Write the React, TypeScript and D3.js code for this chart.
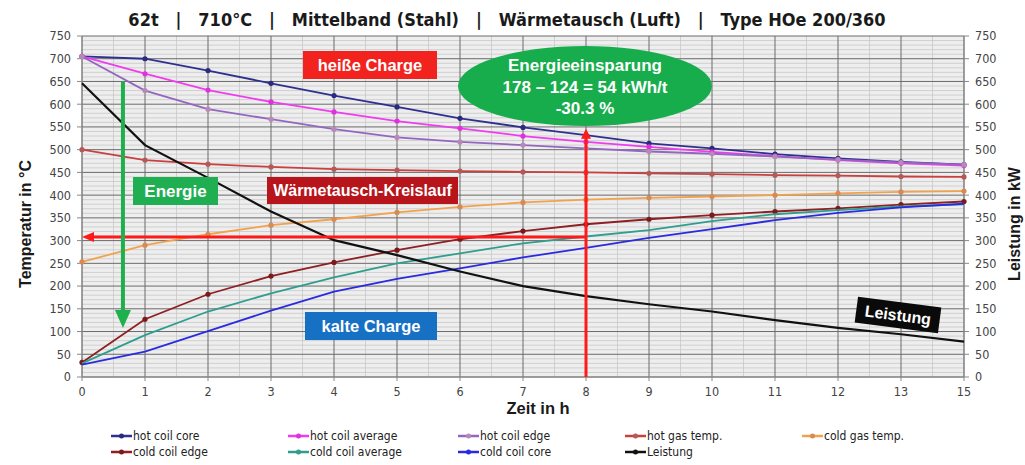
import React from 'react';
import * as d3 from 'd3';

const xLabels = ['0','1','2','3','4','5','6','7','8','9','10','11','12','13','15'];
const yTicks = [0,50,100,150,200,250,300,350,400,450,500,550,600,650,700,750];

const hotCoilCore = [705,700,674,646,619,594,569,549,532,514,503,490,481,473,467];
const hotCoilAverage = [705,667,631,605,583,563,547,530,517,506,495,486,477,470,465];
const hotCoilEdge = [705,630,589,567,545,527,517,510,503,496,491,485,478,472,467];
const hotGasTemp = [500,477,468,462,457,455,453,451,450,448,446,444,443,441,440];
const coldGasTemp = [253,290,314,334,347,362,374,384,390,394,397,400,404,407,409];
const coldCoilEdge = [32,127,182,222,252,279,303,321,336,347,356,364,371,379,386];
const coldCoilAverage = [30,92,144,184,219,250,272,294,309,323,343,358,367,375,380];
const coldCoilCore = [27,56,101,146,188,216,239,263,284,306,325,345,361,373,381];
const leistung = [646,510,438,364,301,268,232,200,178,160,144,125,108,94,78];

const seriesNames = ['hot coil core','hot coil average','hot coil edge','hot gas temp.','cold gas temp.','cold coil edge','cold coil average','cold coil core','Leistung'];
const seriesValues = [hotCoilCore, hotCoilAverage, hotCoilEdge, hotGasTemp, coldGasTemp, coldCoilEdge, coldCoilAverage, coldCoilCore, leistung];
const seriesColors = ['#2e2f8f','#f03cf0','#9466c0','#c8413f','#f2a24e','#8e1f22','#2f9e8f','#2a2ae0','#111111'];
const markerColors = ['#2a2a80','#e030e0','#b889b8','#b45858','#d98a50','#7a1a1a',null,null,null];

const titleText = '62t   |   710°C   |   Mittelband (Stahl)   |   Wärmetausch (Luft)   |   Type HOe 200/360';

const W = 1025, H = 465;
const X0 = 82, X1 = 964, Y0 = 377, Y1 = 36;

const narrow = "'Liberation Sans Narrow', 'Arial Narrow', 'DejaVu Sans Condensed', 'Liberation Sans', sans-serif";
const sans = "'Liberation Sans', Arial, sans-serif";

export default function App() {
  const x = d3.scalePoint<string>().domain(xLabels).range([X0, X1]);
  const y = d3.scaleLinear().domain([0, 750]).range([Y0, Y1]);
  const yR = d3.scaleLinear().domain([0, 750]).range([Y0, Y1]);
  const step = x.step();
  const line = d3.line<number>().x((_, i) => x(xLabels[i]) as number).y(d => y(d));

  const minorY = d3.range(0, 751, 10).filter(v => v % 50 !== 0);
  const minorX = xLabels.slice(0, -1).map(l => (x(l) as number) + step / 2);

  const x8 = x('8') as number;
  const yArrowH = y(308);
  const greenX = X0 + 0.65 * step;

  const legendCols = [111, 288, 458, 625, 802];
  const legendRows = [436, 452];

  const boxText = { fontFamily: sans, fontWeight: 'bold' as const, fill: '#fff', textAnchor: 'middle' as const };

  return (
    <svg width={W} height={H} style={{ position: 'absolute', left: 0, top: 0, background: '#fff' }}>
      <rect x={0} y={0} width={W} height={H} fill="#ffffff" />
      <rect x={X0} y={Y1} width={X1 - X0} height={Y0 - Y1} fill="#eeeeee" />
      {minorY.map(v => (
        <line key={'my' + v} x1={X0} x2={X1} y1={y(v)} y2={y(v)} stroke="#c8c8c8" strokeWidth={0.8} />
      ))}
      {minorX.map((px, i) => (
        <line key={'mx' + i} x1={px} x2={px} y1={Y1} y2={Y0} stroke="#c8c8c8" strokeWidth={0.8} />
      ))}
      {yTicks.map(v => (
        <line key={'gy' + v} x1={X0} x2={X1} y1={y(v)} y2={y(v)} stroke="#6a6a6a" strokeWidth={1} />
      ))}
      {xLabels.map(l => (
        <line key={'gx' + l} x1={x(l)} x2={x(l)} y1={Y1} y2={Y0} stroke="#6a6a6a" strokeWidth={1} />
      ))}
      <line x1={X0} x2={X0} y1={Y1} y2={Y0} stroke="#888" strokeWidth={1} />
      <line x1={X1} x2={X1} y1={Y1} y2={Y0} stroke="#888" strokeWidth={1} />
      <line x1={X0} x2={X1} y1={Y0} y2={Y0} stroke="#888" strokeWidth={1} />
      {yTicks.map(v => (
        <g key={'ty' + v}>
          <line x1={X0 - 5} x2={X0} y1={y(v)} y2={y(v)} stroke="#888" />
          <text x={X0 - 11} y={y(v)} dy="0.35em" textAnchor="end" fontFamily={narrow} fontSize={12.5} fill="#444">{v}</text>
          <line x1={X1} x2={X1 + 5} y1={yR(v)} y2={yR(v)} stroke="#888" />
          <text x={X1 + 11} y={yR(v)} dy="0.35em" textAnchor="start" fontFamily={narrow} fontSize={12.5} fill="#444">{v}</text>
        </g>
      ))}
      {xLabels.map(l => (
        <g key={'tx' + l}>
          <line x1={x(l)} x2={x(l)} y1={Y0} y2={Y0 + 4} stroke="#888" />
          <text x={x(l)} y={Y0 + 19} textAnchor="middle" fontFamily={narrow} fontSize={12.5} fill="#444">{l}</text>
        </g>
      ))}

      {seriesValues.map((vals, si) => (
        <g key={'s' + si}>
          <path d={line(vals) || ''} fill="none" stroke={seriesColors[si]} strokeWidth={si === 8 ? 2.2 : 1.8} />
          {markerColors[si] && vals.map((v, i) => (
            <circle key={i} cx={x(xLabels[i])} cy={y(v)} r={2.6} fill={markerColors[si] as string} />
          ))}
        </g>
      ))}

      <line x1={x8} x2={x8} y1={Y0} y2={y(546) + 8} stroke="#ff1a1a" strokeWidth={3} />
      <path d={`M${x8},${y(546)} L${x8 - 5},${y(546) + 10} L${x8 + 5},${y(546) + 10} Z`} fill="#ff1a1a" />
      <line x1={x8} x2={X0 + 10} y1={yArrowH} y2={yArrowH} stroke="#ff1a1a" strokeWidth={3} />
      <path d={`M${X0},${yArrowH} L${X0 + 12},${yArrowH - 5} L${X0 + 12},${yArrowH + 5} Z`} fill="#ff1a1a" />
      <line x1={greenX} x2={greenX} y1={y(650)} y2={y(140)} stroke="#1fb04e" strokeWidth={4} />
      <path d={`M${greenX},${y(108)} L${greenX - 8},${y(108) - 18} L${greenX + 8},${y(108) - 18} Z`} fill="#1fb04e" />

      <rect x={303} y={51} width={134} height={28} fill="#f2221e" />
      <text x={370} y={65} dy="0.36em" fontSize={16.5} {...boxText}>heiße Charge</text>

      <ellipse cx={585} cy={86} rx={127} ry={40} fill="#17ad4c" />
      <text x={585} y={65} dy="0.36em" fontSize={17} {...boxText}>Energieeinsparung</text>
      <text x={585} y={87} dy="0.36em" fontSize={17} {...boxText}>178 – 124 = 54 kWh/t</text>
      <text x={585} y={108} dy="0.36em" fontSize={17} {...boxText}>-30.3 %</text>

      <rect x={133} y={177} width={85} height={28} fill="#1fae52" />
      <text x={175.5} y={191} dy="0.36em" fontSize={17} {...boxText}>Energie</text>

      <rect x={267} y={177} width={191} height={27} fill="#b8141b" />
      <text x={362.5} y={190.5} dy="0.36em" fontSize={16} {...boxText}>Wärmetausch-Kreislauf</text>

      <rect x={305} y={312} width={132} height={28} fill="#1670c4" />
      <text x={371} y={326} dy="0.36em" fontSize={16.5} {...boxText}>kalte Charge</text>

      <g transform="translate(898,315) rotate(7.5)">
        <rect x={-42} y={-13} width={84} height={26} fill="#0a0a0a" />
        <text x={0} y={0} dy="0.36em" fontSize={16} {...boxText}>Leistung</text>
      </g>

      <text x={507} y={26} textAnchor="middle" fontFamily={narrow} fontWeight="bold" fontSize={18} fill="#1a1a1a" style={{ whiteSpace: 'pre' }}>{titleText}</text>

      <text transform={`translate(31,224) rotate(-90)`} textAnchor="middle" fontFamily={sans} fontWeight="bold" fontSize={16} fill="#1a1a1a">Temperatur in °C</text>
      <text transform={`translate(1020,224) rotate(-90)`} textAnchor="middle" fontFamily={sans} fontWeight="bold" fontSize={16} fill="#1a1a1a">Leistung in kW</text>
      <text x={538} y={414} textAnchor="middle" fontFamily={sans} fontWeight="bold" fontSize={16.5} fill="#1a1a1a">Zeit in h</text>

      {seriesNames.map((name, i) => {
        const col = i < 5 ? i : i - 5;
        const row = i < 5 ? 0 : 1;
        const lx = legendCols[col];
        const ly = legendRows[row];
        return (
          <g key={'lg' + i}>
            <line x1={lx} x2={lx + 21} y1={ly} y2={ly} stroke={seriesColors[i]} strokeWidth={2.5} />
            <circle cx={lx + 10.5} cy={ly} r={2.5} fill={markerColors[i] || seriesColors[i]} />
            <text x={lx + 22} y={ly} dy="0.35em" fontFamily={narrow} fontSize={12} fill="#222">{name}</text>
          </g>
        );
      })}
    </svg>
  );
}
